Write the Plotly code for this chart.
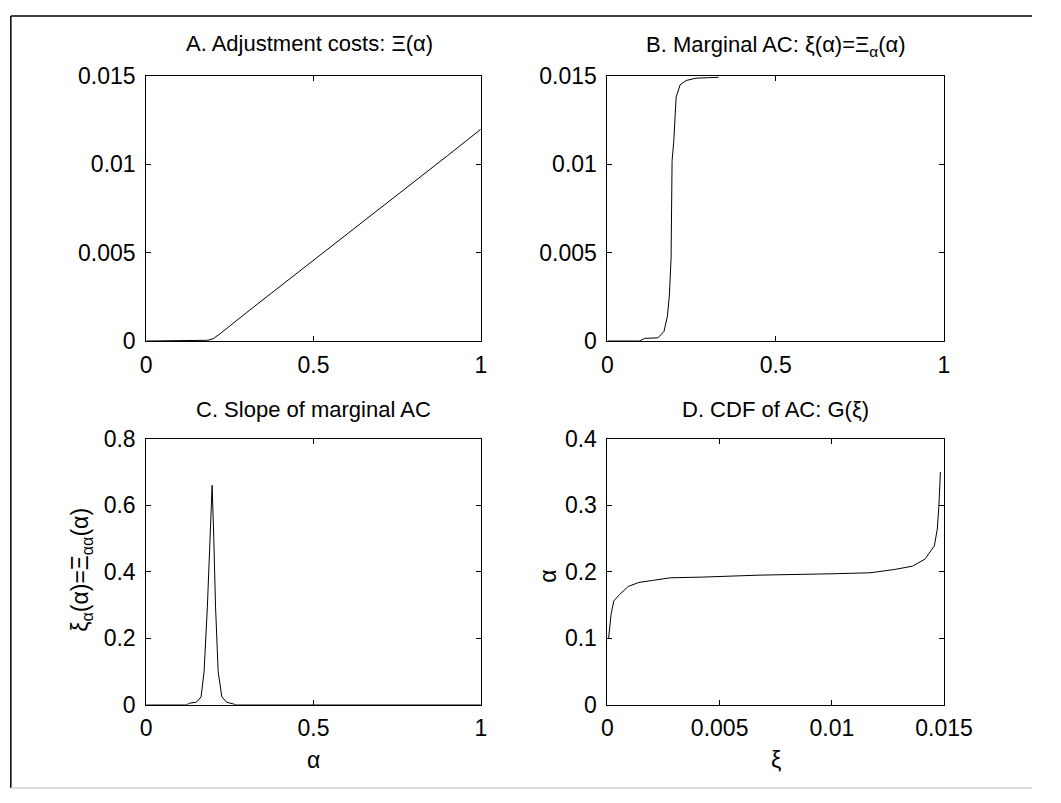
import plotly.graph_objects as go

W, H = 1061, 803

# Panel A: adjustment costs Xi(alpha)
a_alpha = [0, 0.1, 0.15, 0.18, 0.19, 0.2, 0.22, 0.25, 0.3, 0.4, 0.5, 0.6, 0.7, 0.8, 0.9, 1.0]
a_xi = [0, 0.00001, 0.00002, 0.00004, 0.00007, 0.00013, 0.0004, 0.00087, 0.00161, 0.00309,
        0.00456, 0.00604, 0.00752, 0.009, 0.01048, 0.01198]

# Panel B: marginal AC xi(alpha)
b_alpha = [0, 0.096, 0.11, 0.15, 0.168, 0.178, 0.184, 0.189, 0.192, 0.197, 0.204, 0.216,
           0.234, 0.263, 0.3, 0.33]
b_xi = [0, 0, 0.00015, 0.00018, 0.00055, 0.0014, 0.0026, 0.0047, 0.0102, 0.0113, 0.0138,
        0.0145, 0.01474, 0.01487, 0.0149, 0.01492]

# Panel C: slope of marginal AC
c_alpha = [0, 0.12, 0.13, 0.15, 0.164, 0.173, 0.183, 0.19, 0.197, 0.202, 0.207, 0.215,
           0.226, 0.24, 0.255, 0.27, 1.0]
c_slope = [0, 0, 0.005, 0.008, 0.024, 0.10, 0.30, 0.50, 0.66, 0.50, 0.30, 0.10,
           0.024, 0.008, 0.005, 0, 0]

# Panel D: CDF of AC, G(xi)
d_xi = [0.00005, 0.00016, 0.00028, 0.00054, 0.00093, 0.0014, 0.002, 0.0028, 0.0042,
        0.0068, 0.010, 0.0117, 0.0128, 0.0136, 0.01415, 0.01457, 0.0147, 0.01477, 0.01484]
d_alpha = [0.1, 0.136, 0.156, 0.166, 0.178, 0.184, 0.187, 0.191, 0.192, 0.195, 0.197,
           0.1985, 0.2035, 0.2085, 0.219, 0.239, 0.264, 0.298, 0.35]

ticks_01 = [0, 0.5, 1]
ticktext_01 = ["0", "0.5", "1"]
ticks_015 = [0, 0.005, 0.01, 0.015]
ticktext_015 = ["0", "0.005", "0.01", "0.015"]
ticks_c = [0, 0.2, 0.4, 0.6, 0.8]
ticktext_c = ["0", "0.2", "0.4", "0.6", "0.8"]
ticks_d = [0, 0.1, 0.2, 0.3, 0.4]
ticktext_d = ["0", "0.1", "0.2", "0.3", "0.4"]

FONT = "Liberation Sans, Arial, sans-serif"


def px_dom_x(a, b):
    return [a / W, b / W]


def px_dom_y(top, bottom):
    return [1 - bottom / H, 1 - top / H]


line = dict(color="black", width=1)
fig = go.Figure()
fig.add_trace(go.Scatter(x=a_alpha, y=a_xi, mode="lines", line=line, xaxis="x", yaxis="y"))
fig.add_trace(go.Scatter(x=b_alpha, y=b_xi, mode="lines", line=line, xaxis="x2", yaxis="y2"))
fig.add_trace(go.Scatter(x=c_alpha, y=c_slope, mode="lines", line=line, xaxis="x3", yaxis="y3"))
fig.add_trace(go.Scatter(x=d_xi, y=d_alpha, mode="lines", line=line, xaxis="x4", yaxis="y4"))

common = dict(showline=True, linecolor="black", linewidth=1, mirror="ticks", ticks="inside",
              ticklen=5, tickcolor="black", showgrid=False, zeroline=False,
              tickfont=dict(family=FONT, size=23, color="black"))
xcommon = dict(common, ticklabelstandoff=3)
ycommon = dict(common, ticklabelstandoff=5)

xl, xr = 145, 491
xl2, xr2 = 622, 970
yt1, yb1 = 65, 339
yt2, yb2 = 440, 715

fig.update_layout(
    width=W, height=H, margin=dict(l=0, r=0, t=0, b=0),
    paper_bgcolor="white", plot_bgcolor="white", showlegend=False,
    xaxis=dict(domain=px_dom_x(xl, xr), range=[0, 1], tickvals=ticks_01, ticktext=ticktext_01, anchor="y", **xcommon),
    yaxis=dict(domain=px_dom_y(yt1, yb1), range=[0, 0.015], tickvals=ticks_015, ticktext=ticktext_015, anchor="x", **ycommon),
    xaxis2=dict(domain=px_dom_x(xl2, xr2), range=[0, 1], tickvals=ticks_01, ticktext=ticktext_01, anchor="y2", **xcommon),
    yaxis2=dict(domain=px_dom_y(yt1, yb1), range=[0, 0.015], tickvals=ticks_015, ticktext=ticktext_015, anchor="x2", **ycommon),
    xaxis3=dict(domain=px_dom_x(xl, xr), range=[0, 1], tickvals=ticks_01, ticktext=ticktext_01, anchor="y3", **xcommon),
    yaxis3=dict(domain=px_dom_y(yt2, yb2), range=[0, 0.8], tickvals=ticks_c, ticktext=ticktext_c, anchor="x3", **ycommon),
    xaxis4=dict(domain=px_dom_x(xl2, xr2), range=[0, 0.015], tickvals=ticks_015, ticktext=ticktext_015, anchor="y4", **xcommon),
    yaxis4=dict(domain=px_dom_y(yt2, yb2), range=[0, 0.4], tickvals=ticks_d, ticktext=ticktext_d, anchor="x4", **ycommon),
)


def ann(text, x, y, size=22, angle=0):
    fig.add_annotation(text=text, x=x / W, y=1 - y / H, xref="paper", yref="paper",
                       showarrow=False, xanchor="center", yanchor="middle", textangle=angle,
                       font=dict(family=FONT, size=size, color="black"))


ann("A. Adjustment costs: Ξ(α)", (xl + xr) / 2 - 4, 32)
ann("B. Marginal AC: ξ(α)=Ξ<sub>α</sub>(α)", (xl2 + xr2) / 2, 34)
ann("C. Slope of marginal AC", (xl + xr) / 2, 410)
ann("D. CDF of AC: G(ξ)", (xl2 + xr2) / 2, 410)
ann("α", (xl + xr) / 2, 772, size=23)
ann("ξ", (xl2 + xr2) / 2, 772, size=23)
ann("ξ<sub>α</sub>(α)=Ξ<sub>αα</sub>(α)", 78, 575, size=23, angle=-90)
ann("α", 561, 582, size=23, angle=-90)

# outer figure frame (left, top dark; bottom light)
fig.add_shape(type="line", xref="paper", yref="paper", x0=5 / W, x1=5 / W, y0=1 - 801 / H, y1=1 - 3 / H,
              line=dict(color="black", width=1.5))
fig.add_shape(type="line", xref="paper", yref="paper", x0=5 / W, x1=1, y0=1 - 3 / H, y1=1 - 3 / H,
              line=dict(color="black", width=1.5))
fig.add_shape(type="line", xref="paper", yref="paper", x0=5 / W, x1=1, y0=1 - 801 / H, y1=1 - 801 / H,
              line=dict(color="#d0d0d0", width=1.5))

fig.write_html("out.html", config={"displayModeBar": False},
               post_script="document.body.style.margin='0';")
